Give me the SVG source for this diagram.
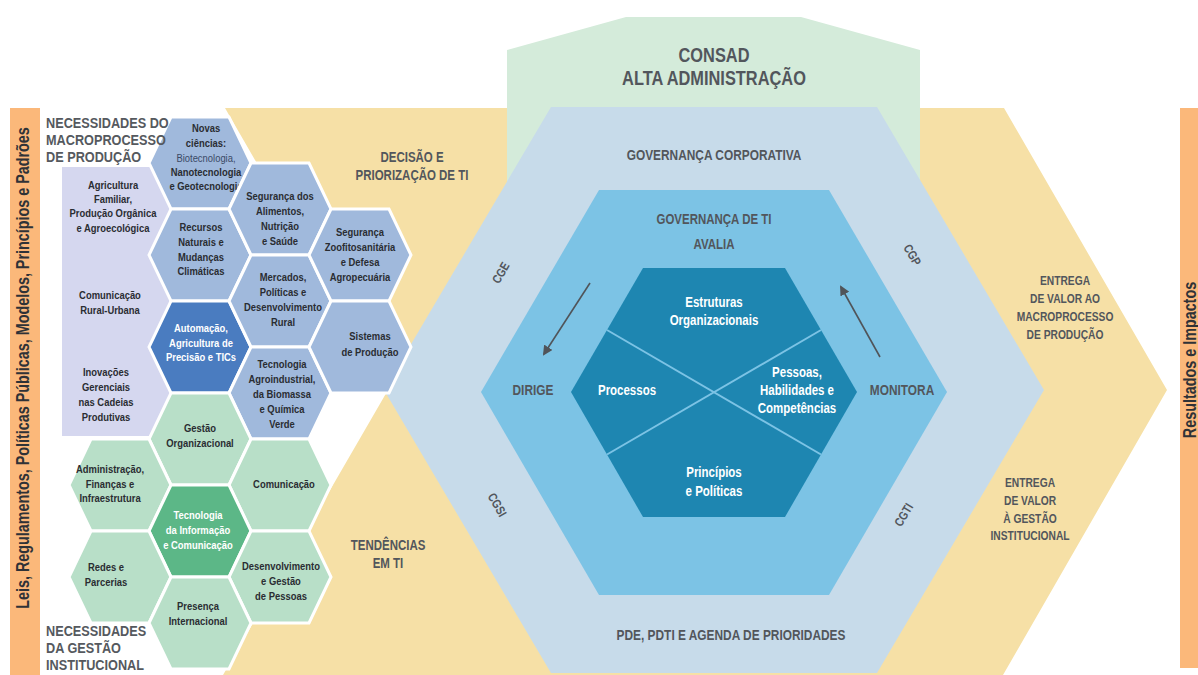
<svg xmlns="http://www.w3.org/2000/svg" width="1198" height="675" viewBox="0 0 1198 675">
  <style>
    text { font-family: "Liberation Sans", Arial, sans-serif; font-weight: 700; text-anchor: middle; }
    /* condensed look: narrow every label horizontally around its own box */
    text:not(.rot) { transform-box: fill-box; transform-origin: center; transform: scaleX(0.82); }
    text.head { transform-origin: left center; }
    .lbl { fill: #52565c; }
    .t19 { font-size: 20px; }
    .t14 { font-size: 14.5px; }
    .t13 { font-size: 14px; }
    .t12 { font-size: 12.5px; }
    .side { font-size: 17.5px; fill: #2f3237; }
    .hx text { font-size: 11.5px; fill: #2a2d32; }
    .hx text.w { fill: #ffffff; }
    .hx text.reg { font-weight: 400; fill: #3b4a66; }
    .inner text { font-size: 14px; fill: #ffffff; }
    .head { font-size: 15.5px; text-anchor: start; fill: #55595e; }
    .pb { fill: #a0b9dc; }
    .pd { fill: #4a7cc0; }
    .gl { fill: #b8dfc8; }
    .gd { fill: #5cb787; }
    .cell { stroke: #ffffff; stroke-width: 3; }
  </style>
  <defs>
    <polygon id="hex" points="-29,-46 29,-46 51,0 29,46 -29,46 -51,0"/>
    <marker id="ah" markerWidth="10" markerHeight="10" refX="8" refY="5" orient="auto" markerUnits="userSpaceOnUse">
      <path d="M0,0 L10,5 L0,10 Z" fill="#505459"/>
    </marker>
  </defs>

  <rect width="1198" height="675" fill="#ffffff"/>

  <!-- value chevron band -->
  <polygon id="band" points="225,108 1004,108 1167,390 1003,675 223,675 388,390" fill="#f6e0a6"/>

  <!-- top management block -->
  <g id="consad">
    <polygon points="507,220 507,50 626,17 801,17 920,50 920,220" fill="#d4ebda"/>
    <text class="lbl t19" x="714" y="62">CONSAD</text>
    <text class="lbl t19" x="714" y="85">ALTA ADMINISTRAÇÃO</text>
  </g>

  <!-- corporate governance hexagon -->
  <g id="gov-corp">
    <polygon points="551,107 877,107 1044,390 877,673 551,673 384,390" fill="#c7dbea"/>
    <text class="lbl t14" x="714" y="160">GOVERNANÇA CORPORATIVA</text>
    <text class="lbl t14" x="731" y="640">PDE, PDTI E AGENDA DE PRIORIDADES</text>
    <text class="lbl t12 rot" transform="translate(501,273) rotate(-60) scale(0.82,1)" dy="4">CGE</text>
    <text class="lbl t12 rot" transform="translate(912,255) rotate(60) scale(0.82,1)" dy="4">CGP</text>
    <text class="lbl t12 rot" transform="translate(497,505) rotate(60) scale(0.82,1)" dy="4">CGSI</text>
    <text class="lbl t12 rot" transform="translate(904,515) rotate(-60) scale(0.82,1)" dy="4">CGTI</text>
  </g>

  <!-- IT governance hexagon -->
  <g id="gov-ti">
    <polygon points="599,190 829,190 947,392 829,595 599,595 481,392" fill="#7cc3e5"/>
    <text class="lbl t13" x="714" y="224">GOVERNANÇA DE TI</text>
    <text class="lbl t13" x="714" y="249">AVALIA</text>
    <text class="lbl t14" x="533" y="395">DIRIGE</text>
    <text class="lbl t14" x="902" y="395">MONITORA</text>
  </g>

  <!-- enablers hexagon -->
  <g id="enablers" class="inner">
    <polygon points="643,268 785,268 857,392 785,517 643,517 571,392" fill="#1e86b1"/>
    <line x1="607" y1="330" x2="821" y2="454.5" stroke="#7cc3e5" stroke-width="2"/>
    <line x1="821" y1="330" x2="607" y2="454.5" stroke="#7cc3e5" stroke-width="2"/>
    <text x="714" y="307">Estruturas</text>
    <text x="714" y="325">Organizacionais</text>
    <text x="627" y="395">Processos</text>
    <text x="797" y="377">Pessoas,</text>
    <text x="797" y="395">Habilidades e</text>
    <text x="797" y="413">Competências</text>
    <text x="714" y="477">Princípios</text>
    <text x="714" y="496">e Políticas</text>
  </g>

  <!-- cycle arrows -->
  <g id="connectors" stroke="#505459" stroke-width="1.6" fill="none">
    <line x1="590" y1="283" x2="544" y2="354" marker-end="url(#ah)"/>
    <line x1="880" y1="357" x2="841" y2="287" marker-end="url(#ah)"/>
  </g>

  <!-- band labels -->
  <g id="band-labels" class="lbl">
    <text class="t13" x="412" y="162">DECISÃO E</text>
    <text class="t13" x="412" y="180">PRIORIZAÇÃO DE TI</text>
    <text class="t13" x="388" y="550">TENDÊNCIAS</text>
    <text class="t13" x="388" y="568">EM TI</text>
    <text class="t12" x="1065" y="285">ENTREGA</text>
    <text class="t12" x="1065" y="303">DE VALOR AO</text>
    <text class="t12" x="1065" y="321">MACROPROCESSO</text>
    <text class="t12" x="1065" y="339">DE PRODUÇÃO</text>
    <text class="t12" x="1030" y="487">ENTREGA</text>
    <text class="t12" x="1030" y="505">DE VALOR</text>
    <text class="t12" x="1030" y="523">À GESTÃO</text>
    <text class="t12" x="1030" y="540">INSTITUCIONAL</text>
  </g>

  <!-- production needs panel -->
  <g id="production-panel">
    <rect x="62" y="167" width="125" height="269" fill="#d5d7ef"/>
    <g class="hx">
      <text x="113" y="189">Agricultura</text>
      <text x="113" y="203">Familiar,</text>
      <text x="113" y="217">Produção Orgânica</text>
      <text x="113" y="232">e Agroecológica</text>
      <text x="110" y="299">Comunicação</text>
      <text x="110" y="314">Rural-Urbana</text>
      <text x="106" y="376">Inovações</text>
      <text x="106" y="391">Gerenciais</text>
      <text x="106" y="406">nas Cadeias</text>
      <text x="106" y="421">Produtivas</text>
    </g>
  </g>

  <!-- honeycomb cells -->
  <g id="cell-novas" class="hx">
    <use href="#hex" x="200" y="163" class="cell pb"/>
    <text x="206" y="132">Novas</text>
    <text x="206" y="147">ciências:</text>
    <text x="206" y="162" class="reg">Biotecnologia,</text>
    <text x="206" y="176">Nanotecnologia</text>
    <text x="206" y="190">e Geotecnologia</text>
  </g>
  <g id="cell-recursos" class="hx">
    <use href="#hex" x="200" y="255" class="cell pb"/>
    <text x="201" y="231">Recursos</text>
    <text x="201" y="246">Naturais e</text>
    <text x="201" y="261">Mudanças</text>
    <text x="201" y="275">Climáticas</text>
  </g>
  <g id="cell-automacao" class="hx">
    <use href="#hex" x="200" y="347" class="cell pd"/>
    <text class="w" x="201" y="332">Automação,</text>
    <text class="w" x="201" y="347">Agricultura de</text>
    <text class="w" x="201" y="361">Precisão e TICs</text>
  </g>
  <g id="cell-seg-alimentos" class="hx">
    <use href="#hex" x="280" y="209" class="cell pb"/>
    <text x="280" y="200">Segurança dos</text>
    <text x="280" y="215">Alimentos,</text>
    <text x="280" y="230">Nutrição</text>
    <text x="280" y="245">e Saúde</text>
  </g>
  <g id="cell-mercados" class="hx">
    <use href="#hex" x="280" y="301" class="cell pb"/>
    <text x="283" y="281">Mercados,</text>
    <text x="283" y="296">Políticas e</text>
    <text x="283" y="311">Desenvolvimento</text>
    <text x="283" y="326">Rural</text>
  </g>
  <g id="cell-agroindustrial" class="hx">
    <use href="#hex" x="280" y="393" class="cell pb"/>
    <text x="282" y="368">Tecnologia</text>
    <text x="282" y="383">Agroindustrial,</text>
    <text x="282" y="398">da Biomassa</text>
    <text x="282" y="413">e Química</text>
    <text x="282" y="428">Verde</text>
  </g>
  <g id="cell-zoofito" class="hx">
    <use href="#hex" x="360" y="255" class="cell pb"/>
    <text x="360" y="236">Segurança</text>
    <text x="360" y="251">Zoofitosanitária</text>
    <text x="360" y="266">e Defesa</text>
    <text x="360" y="281">Agropecuária</text>
  </g>
  <g id="cell-sistemas" class="hx">
    <use href="#hex" x="360" y="347" class="cell pb"/>
    <text x="370" y="340">Sistemas</text>
    <text x="370" y="356">de Produção</text>
  </g>
  <g id="cell-gestao-org" class="hx">
    <use href="#hex" x="200" y="439" class="cell gl"/>
    <text x="200" y="432">Gestão</text>
    <text x="200" y="447">Organizacional</text>
  </g>
  <g id="cell-administracao" class="hx">
    <use href="#hex" x="120" y="485" class="cell gl"/>
    <text x="110" y="473">Administração,</text>
    <text x="110" y="488">Finanças e</text>
    <text x="110" y="502">Infraestrutura</text>
  </g>
  <g id="cell-comunicacao" class="hx">
    <use href="#hex" x="280" y="485" class="cell gl"/>
    <text x="284" y="488">Comunicação</text>
  </g>
  <g id="cell-tic" class="hx">
    <use href="#hex" x="200" y="531" class="cell gd"/>
    <text class="w" x="198" y="519">Tecnologia</text>
    <text class="w" x="198" y="534">da Informação</text>
    <text class="w" x="198" y="549">e Comunicação</text>
  </g>
  <g id="cell-redes" class="hx">
    <use href="#hex" x="120" y="577" class="cell gl"/>
    <text x="106" y="571">Redes e</text>
    <text x="106" y="586">Parcerias</text>
  </g>
  <g id="cell-pessoas" class="hx">
    <use href="#hex" x="280" y="577" class="cell gl"/>
    <text x="281" y="570">Desenvolvimento</text>
    <text x="281" y="585">e Gestão</text>
    <text x="281" y="600">de Pessoas</text>
  </g>
  <g id="cell-presenca" class="hx">
    <use href="#hex" x="200" y="623" class="cell gl"/>
    <text x="198" y="610">Presença</text>
    <text x="198" y="625">Internacional</text>
  </g>

  <!-- group headings -->
  <g id="headings">
    <text class="head" x="46" y="128">NECESSIDADES DO</text>
    <text class="head" x="46" y="145">MACROPROCESSO</text>
    <text class="head" x="46" y="162">DE PRODUÇÃO</text>
    <text class="head" x="46" y="636">NECESSIDADES</text>
    <text class="head" x="46" y="653">DA GESTÃO</text>
    <text class="head" x="46" y="670" font-size="14" font-weight="400">INSTITUCIONAL</text>
  </g>

  <!-- side bars -->
  <g id="bar-left">
    <rect x="10" y="108" width="30" height="567" fill="#fbb87a"/>
    <text class="side rot" transform="translate(29,368) rotate(-90) scale(0.82,1)">Leis, Regulamentos, Políticas Públicas, Modelos, Princípios e Padrões</text>
  </g>
  <g id="bar-right">
    <rect x="1180" y="108" width="18" height="560" fill="#fbb87a"/>
    <text class="side rot" font-size="15" transform="translate(1196,360) rotate(-90) scale(0.82,1)">Resultados e Impactos</text>
  </g>
</svg>
